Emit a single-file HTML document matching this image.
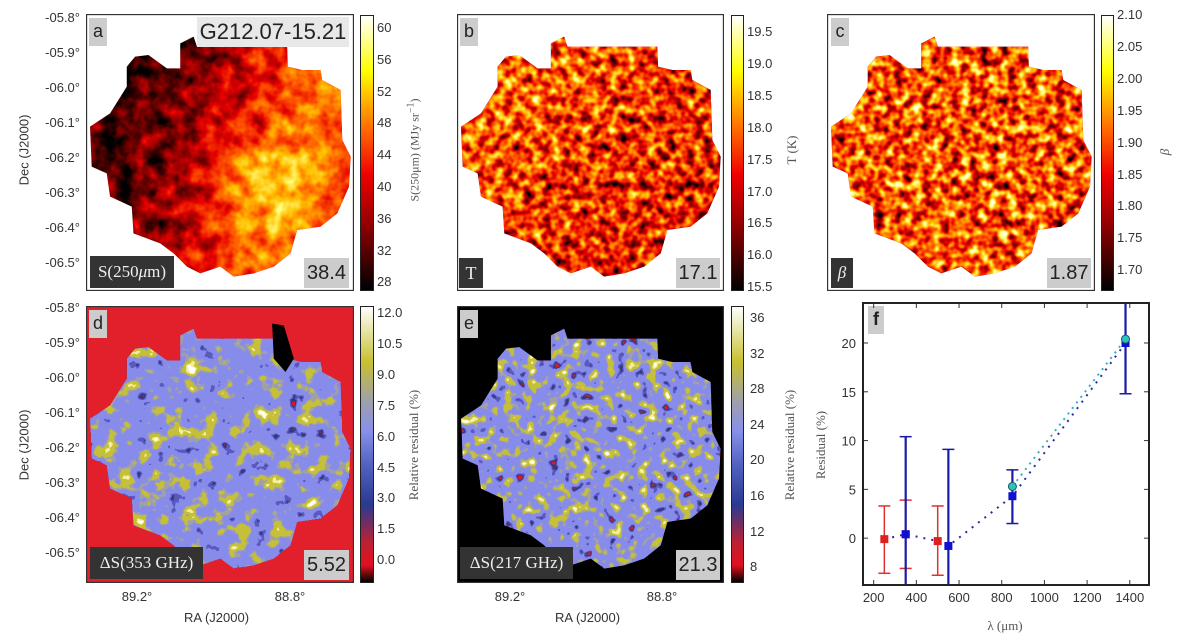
<!DOCTYPE html>
<html><head><meta charset="utf-8">
<style>
body{margin:0;width:1200px;height:636px;background:#fff;overflow:hidden;position:relative;font-family:"Liberation Sans",sans-serif;}
.abs{position:absolute;}
.t{position:absolute;font-size:13px;color:#333;white-space:nowrap;}
.rot{position:absolute;transform:translate(-50%,-50%) rotate(-90deg);white-space:nowrap;}
.serif{font-family:"Liberation Serif",serif;}
</style></head><body>
<svg width="0" height="0" style="position:absolute">
<defs>
 <filter id="fa" x="0" y="0" width="1" height="1" color-interpolation-filters="sRGB">
  <feTurbulence type="fractalNoise" baseFrequency="0.02" numOctaves="3" seed="3" result="n"/>
  <feColorMatrix in="n" type="matrix" values="1 0 0 0 0 1 0 0 0 0 1 0 0 0 0 0 0 0 0 1" result="g"/>
  <feComposite in="SourceGraphic" in2="g" operator="arithmetic" k2="1" k3="0.6" k4="-0.3" result="m"/>
  <feComponentTransfer in="m" result="c">
   <feFuncR type="table" tableValues="0 0.45 0.9 1 1 1 1"/>
   <feFuncG type="table" tableValues="0 0 0 0.35 0.75 1 1"/>
   <feFuncB type="table" tableValues="0 0 0 0 0 0.5 1"/>
   <feFuncA type="table" tableValues="1 1"/>
  </feComponentTransfer>
  <feComposite in="c" in2="SourceAlpha" operator="in"/>
 </filter>
 <filter id="fb" x="0" y="0" width="1" height="1" color-interpolation-filters="sRGB">
  <feTurbulence type="fractalNoise" baseFrequency="0.035" numOctaves="2" seed="7" result="n"/>
  <feColorMatrix in="n" type="matrix" values="1 0 0 0 0 1 0 0 0 0 1 0 0 0 0 0 0 0 0 1" result="g"/>
  <feComposite in="SourceGraphic" in2="g" operator="arithmetic" k2="1" k3="1.3" k4="-0.65" result="m"/>
  <feComponentTransfer in="m" result="c">
   <feFuncR type="table" tableValues="0 0.45 0.9 1 1 1 1"/>
   <feFuncG type="table" tableValues="0 0 0 0.35 0.75 1 1"/>
   <feFuncB type="table" tableValues="0 0 0 0 0 0.5 1"/>
   <feFuncA type="table" tableValues="1 1"/>
  </feComponentTransfer>
  <feComposite in="c" in2="SourceAlpha" operator="in"/>
 </filter>
 <filter id="fc" x="0" y="0" width="1" height="1" color-interpolation-filters="sRGB">
  <feTurbulence type="fractalNoise" baseFrequency="0.035" numOctaves="2" seed="19" result="n"/>
  <feColorMatrix in="n" type="matrix" values="1 0 0 0 0 1 0 0 0 0 1 0 0 0 0 0 0 0 0 1" result="g"/>
  <feComposite in="SourceGraphic" in2="g" operator="arithmetic" k2="1" k3="1.5" k4="-0.75" result="m"/>
  <feComponentTransfer in="m" result="c">
   <feFuncR type="table" tableValues="0 0.45 0.9 1 1 1 1"/>
   <feFuncG type="table" tableValues="0 0 0 0.35 0.75 1 1"/>
   <feFuncB type="table" tableValues="0 0 0 0 0 0.5 1"/>
   <feFuncA type="table" tableValues="1 1"/>
  </feComponentTransfer>
  <feComposite in="c" in2="SourceAlpha" operator="in"/>
 </filter>
 <filter id="fd" x="0" y="0" width="1" height="1" color-interpolation-filters="sRGB">
  <feTurbulence type="fractalNoise" baseFrequency="0.02" numOctaves="3" seed="11" result="n"/>
  <feColorMatrix in="n" type="matrix" values="1 0 0 0 0 1 0 0 0 0 1 0 0 0 0 0 0 0 0 1" result="g"/>
  <feComposite in="SourceGraphic" in2="g" operator="arithmetic" k2="1" k3="1.2" k4="-0.6" result="m"/>
  <feComponentTransfer in="m" result="c">
   <feFuncR type="discrete" tableValues="0.85 0.2 0.35 0.53 0.53 0.53 0.53 0.63 0.78 0.78 0.95 1"/>
   <feFuncG type="discrete" tableValues="0.1 0.22 0.35 0.55 0.55 0.55 0.55 0.63 0.75 0.75 0.93 1"/>
   <feFuncB type="discrete" tableValues="0.15 0.5 0.75 0.92 0.92 0.92 0.92 0.66 0.22 0.22 0.6 1"/>
   <feFuncA type="table" tableValues="1 1"/>
  </feComponentTransfer>
  <feComposite in="c" in2="SourceAlpha" operator="in"/>
 </filter>
 <filter id="fe" x="0" y="0" width="1" height="1" color-interpolation-filters="sRGB">
  <feTurbulence type="fractalNoise" baseFrequency="0.03" numOctaves="2" seed="5" result="n"/>
  <feColorMatrix in="n" type="matrix" values="1 0 0 0 0 1 0 0 0 0 1 0 0 0 0 0 0 0 0 1" result="g"/>
  <feComposite in="SourceGraphic" in2="g" operator="arithmetic" k2="1" k3="1.4" k4="-0.7" result="m"/>
  <feComponentTransfer in="m" result="c">
   <feFuncR type="discrete" tableValues="0.85 0.22 0.35 0.53 0.53 0.53 0.53 0.63 0.78 0.78 0.95 1"/>
   <feFuncG type="discrete" tableValues="0.1 0.22 0.35 0.55 0.55 0.55 0.55 0.63 0.75 0.75 0.93 1"/>
   <feFuncB type="discrete" tableValues="0.15 0.5 0.75 0.92 0.92 0.92 0.92 0.66 0.22 0.22 0.6 1"/>
   <feFuncA type="table" tableValues="1 1"/>
  </feComponentTransfer>
  <feComposite in="c" in2="SourceAlpha" operator="in"/>
 </filter>
 <linearGradient id="ga" x1="0" y1="0.2" x2="1" y2="0.5">
  <stop offset="0" stop-color="#101010"/><stop offset="0.3" stop-color="#282828"/>
  <stop offset="0.5" stop-color="#484848"/><stop offset="0.7" stop-color="#787878"/><stop offset="0.88" stop-color="#8e8e8e"/><stop offset="1" stop-color="#6e6e6e"/>
 </linearGradient>
 <radialGradient id="gar" cx="0.68" cy="0.62" r="0.3">
  <stop offset="0" stop-color="#fff" stop-opacity="0.45"/><stop offset="1" stop-color="#fff" stop-opacity="0"/>
 </radialGradient>
 <linearGradient id="gb" x1="0" y1="0" x2="1" y2="1">
  <stop offset="0" stop-color="#989898"/><stop offset="0.45" stop-color="#707070"/><stop offset="1" stop-color="#5a5a5a"/>
 </linearGradient>
 <polygon id="blob" points="405,170 445,165 500,205 540,205 540,130 580,110 590,140 860,140 862,200 905,210 960,210 965,240 1020,270 1025,420 1050,470 1045,560 1010,640 960,680 890,690 870,760 820,800 760,820 700,830 660,800 600,820 560,800 520,760 480,730 400,700 395,620 330,590 320,520 275,500 270,380 330,340 380,260 380,200"/>
</defs>
</svg>

<!-- Panel a -->
<svg class="abs" style="left:86px;top:14px" width="268" height="277" viewBox="258 42 802 831" preserveAspectRatio="none">
 <rect x="258" y="42" width="802" height="831" fill="#fff"/>
 <g filter="url(#fa)"><use href="#blob" fill="url(#ga)"/><use href="#blob" fill="url(#gar)"/></g>
 <rect x="259" y="43" width="800" height="829" fill="none" stroke="#333" stroke-width="5"/>
</svg>
<!-- Panel b -->
<svg class="abs" style="left:457px;top:14px" width="267" height="277" viewBox="258 42 802 831" preserveAspectRatio="none">
 <rect x="258" y="42" width="802" height="831" fill="#fff"/>
 <g filter="url(#fb)"><use href="#blob" fill="url(#gb)"/></g>
 <rect x="259" y="43" width="800" height="829" fill="none" stroke="#333" stroke-width="5"/>
</svg>
<!-- Panel c -->
<svg class="abs" style="left:827px;top:14px" width="268" height="277" viewBox="258 42 802 831" preserveAspectRatio="none">
 <rect x="258" y="42" width="802" height="831" fill="#fff"/>
 <g filter="url(#fc)"><use href="#blob" fill="#7c7c7c"/></g>
 <rect x="259" y="43" width="800" height="829" fill="none" stroke="#333" stroke-width="5"/>
</svg>
<!-- Panel d -->
<svg class="abs" style="left:86px;top:306px" width="268" height="277" viewBox="258 42 802 831" preserveAspectRatio="none">
 <rect x="258" y="42" width="802" height="831" fill="#e2202c"/>
 <g filter="url(#fd)"><use href="#blob" fill="#828282"/></g>
 <path d="M815,95 L850,100 L880,200 L855,240 L820,200 Z" fill="#000"/>
 <rect x="259" y="43" width="800" height="829" fill="none" stroke="#333" stroke-width="5"/>
</svg>
<!-- Panel e -->
<svg class="abs" style="left:457px;top:306px" width="267" height="277" viewBox="258 42 802 831" preserveAspectRatio="none">
 <rect x="258" y="42" width="802" height="831" fill="#000"/>
 <g filter="url(#fe)"><use href="#blob" fill="#828282"/></g>
 <rect x="259" y="43" width="800" height="829" fill="none" stroke="#333" stroke-width="5"/>
</svg>

<!-- colorbars -->
<div class="abs" style="left:360px;top:15px;width:12px;height:274px;border:1px solid #222;background:linear-gradient(to top,#000 0%,#900 25%,#e00 42%,#f60 58%,#ff0 80%,#fff 100%)"></div>
<div class="abs" style="left:731px;top:15px;width:11px;height:274px;border:1px solid #222;background:linear-gradient(to top,#000 0%,#900 25%,#e00 42%,#f60 58%,#ff0 80%,#fff 100%)"></div>
<div class="abs" style="left:1101px;top:15px;width:11px;height:274px;border:1px solid #222;background:linear-gradient(to top,#000 0%,#900 25%,#e00 42%,#f60 58%,#ff0 80%,#fff 100%)"></div>
<div class="abs" style="left:360px;top:306px;width:12px;height:275px;border:1px solid #222;background:linear-gradient(to top,#000 0%,#e01020 6%,#c02030 14%,#2a3a90 28%,#5060c0 42%,#8890ea 55%,#a0a0a8 66%,#c8c030 80%,#fff 100%)"></div>
<div class="abs" style="left:731px;top:306px;width:11px;height:275px;border:1px solid #222;background:linear-gradient(to top,#000 0%,#e01020 6%,#c02030 14%,#2a3a90 28%,#5060c0 42%,#8890ea 55%,#a0a0a8 66%,#c8c030 80%,#fff 100%)"></div>

<!-- panel labels -->
<div class="abs" style="left:89px;top:18px;width:18px;height:28px;background:#ccc;font-size:18px;text-align:center;line-height:26px;color:#222">a</div>
<div class="abs" style="left:197px;top:17px;width:152px;height:30px;background:#e8e8e8;font-size:22px;text-align:center;line-height:30px;color:#222">G212.07-15.21</div>
<div class="abs serif" style="left:90px;top:256px;width:84px;height:32px;background:#333;color:#eee;font-size:17px;text-align:center;line-height:32px">S(250<i>μ</i>m)</div>
<div class="abs" style="left:304px;top:258px;width:45px;height:30px;background:#ccc;font-size:20px;text-align:center;line-height:30px;color:#222">38.4</div>

<div class="abs" style="left:460px;top:18px;width:18px;height:28px;background:#ccc;font-size:18px;text-align:center;line-height:26px;color:#222">b</div>
<div class="abs serif" style="left:459px;top:258px;width:24px;height:30px;background:#333;color:#eee;font-size:18px;text-align:center;line-height:30px">T</div>
<div class="abs" style="left:676px;top:258px;width:44px;height:30px;background:#ccc;font-size:20px;text-align:center;line-height:30px;color:#222">17.1</div>

<div class="abs" style="left:831px;top:18px;width:18px;height:28px;background:#ccc;font-size:18px;text-align:center;line-height:26px;color:#222">c</div>
<div class="abs serif" style="left:831px;top:258px;width:22px;height:30px;background:#333;color:#eee;font-size:17px;text-align:center;line-height:30px"><i>β</i></div>
<div class="abs" style="left:1047px;top:258px;width:44px;height:30px;background:#ccc;font-size:20px;text-align:center;line-height:30px;color:#222">1.87</div>

<div class="abs" style="left:89px;top:310px;width:18px;height:28px;background:#ccc;font-size:18px;text-align:center;line-height:26px;color:#222">d</div>
<div class="abs serif" style="left:90px;top:547px;width:113px;height:32px;background:#333;color:#eee;font-size:17px;text-align:center;line-height:32px">ΔS(353 GHz)</div>
<div class="abs" style="left:304px;top:550px;width:45px;height:30px;background:#ccc;font-size:20px;text-align:center;line-height:30px;color:#222">5.52</div>

<div class="abs" style="left:460px;top:310px;width:18px;height:28px;background:#ccc;font-size:18px;text-align:center;line-height:26px;color:#222">e</div>
<div class="abs serif" style="left:460px;top:547px;width:113px;height:32px;background:#333;color:#eee;font-size:17px;text-align:center;line-height:32px">ΔS(217 GHz)</div>
<div class="abs" style="left:676px;top:550px;width:44px;height:30px;background:#ccc;font-size:20px;text-align:center;line-height:30px;color:#222">21.3</div>

<div class="abs" style="left:868px;top:306px;width:16px;height:28px;background:#ccc;font-size:18px;text-align:center;line-height:26px;color:#222;font-weight:bold">f</div>

<div id="labels"></div>

<!-- axis titles -->
<div class="rot" style="left:24px;top:150px;font-size:13px;color:#333">Dec (J2000)</div>
<div class="rot" style="left:24px;top:445px;font-size:13px;color:#333">Dec (J2000)</div>
<div class="t" style="left:184px;top:610px">RA (J2000)</div>
<div class="t" style="left:555px;top:610px">RA (J2000)</div>
<div class="rot serif" style="left:414px;top:150px;font-size:12px;color:#555">S(250μm) (MJy sr<sup>−1</sup>)</div>
<div class="rot serif" style="left:792px;top:150px;font-size:13px;color:#555">T (K)</div>
<div class="rot serif" style="left:1165px;top:152px;font-size:13px;color:#555"><i>β</i></div>
<div class="rot serif" style="left:414px;top:445px;font-size:13px;color:#555">Relative residual (%)</div>
<div class="rot serif" style="left:790px;top:445px;font-size:13px;color:#555">Relative residual (%)</div>

<!-- Panel f chart -->
<svg id="fchart" class="abs" style="left:0;top:0" width="1200" height="636"></svg>

<script>
// ---- panel f data ----
const redWave = [250, 350, 500];
const redVal = [-0.1, 0.4, -0.3];
const redLo = [3.5, 3.5, 3.5];
const redHi = [3.4, 3.5, 3.6];
const blueWave = [350, 550, 850, 1380];
const blueVal = [0.4, -0.8, 4.3, 20.0];
const blueLo = [10, 10, 2.8, 5.2];
const blueHi = [10.0, 9.9, 2.7, 10];
const cyanWave = [850, 1380];
const cyanVal = [5.3, 20.4];
const lineWave = [250, 350, 500, 550, 850, 1380];
const lineVal = [-0.1, 0.4, -0.3, -0.8, 4.3, 20.0];
const xTicks = [200, 400, 600, 800, 1000, 1200, 1400];
const yTicks = [0, 5, 10, 15, 20];

const X0=863, X1=1149, Y0=303, Y1=585;
const xmin=150, xmax=1490, ymin=-4.8, ymax=24.1;
function sx(v){return X0+(v-xmin)/(xmax-xmin)*(X1-X0);}
function sy(v){return Y1-(v-ymin)/(ymax-ymin)*(Y1-Y0);}
const NS='http://www.w3.org/2000/svg';
const svg=document.getElementById('fchart');
function mk(tag,attrs,parent){const e=document.createElementNS(NS,tag);for(const k in attrs)e.setAttribute(k,attrs[k]);(parent||svg).appendChild(e);return e;}
const clip=mk('clipPath',{id:'fclip'});mk('rect',{x:X0,y:Y0,width:X1-X0,height:Y1-Y0},clip);
const plot=mk('g',{'clip-path':'url(#fclip)'});
xTicks.forEach(t=>{
 const x=sx(t);
 const tk=mk('line',{x1:x,x2:x,y1:Y1,y2:Y1-5,stroke:'#333'});
 
 
 mk('line',{x1:x,x2:x,y1:Y0,y2:Y0+5,stroke:'#333'});
 const tx=mk('text',{x:x,y:Y1+17,'text-anchor':'middle','font-size':'13','fill':'#333','font-family':'Liberation Sans, sans-serif'});
 tx.textContent=t;
 
 
});
yTicks.forEach(t=>{
 const y=sy(t);
 mk('line',{x1:X0,x2:X0+5,y1:y,y2:y,stroke:'#333'});
 mk('line',{x1:X1,x2:X1-5,y1:y,y2:y,stroke:'#333'});
 const tx=mk('text',{x:X0-7,y:y+5,'text-anchor':'end','font-size':'13','fill':'#333','font-family':'Liberation Sans, sans-serif'});
 tx.textContent=t;
 
 
});
const ln=mk('polyline',{points:lineWave.map((w,i)=>sx(w)+','+sy(lineVal[i])).join(' '),fill:'none',stroke:'#2a2aa0','stroke-width':2,'stroke-dasharray':'2 6'},plot);


const cl=mk('polyline',{points:cyanWave.map((w,i)=>sx(w)+','+sy(cyanVal[i])).join(' '),fill:'none',stroke:'#30b0c8','stroke-width':2,'stroke-dasharray':'2 5'},plot);


function errbar(w,v,lo,hi,col,wid,name){
 const g=mk('g',{},plot);
 
 
 const x=sx(w);
 mk('line',{x1:x,x2:x,y1:sy(v-lo),y2:sy(v+hi),stroke:col,'stroke-width':wid},g);
 mk('line',{x1:x-6,x2:x+6,y1:sy(v-lo),y2:sy(v-lo),stroke:col,'stroke-width':1.5},g);
 mk('line',{x1:x-6,x2:x+6,y1:sy(v+hi),y2:sy(v+hi),stroke:col,'stroke-width':1.5},g);
 return g;
}
redWave.forEach((w,i)=>{
 const g=errbar(w,redVal[i],redLo[i],redHi[i],'#e03030',1.5,'red-errorbar');
 const p=mk('rect',{x:sx(w)-4,y:sy(redVal[i])-4,width:8,height:8,fill:'#e02020'},g);
 
 
});
blueWave.forEach((w,i)=>{
 const g=errbar(w,blueVal[i],blueLo[i],blueHi[i],'#1a1aa8',2.2,'blue-errorbar');
 const p=mk('rect',{x:sx(w)-4,y:sy(blueVal[i])-4,width:8,height:8,fill:'#1010d0'},g);
 
 
});
cyanWave.forEach((w,i)=>{
 const c=mk('circle',{cx:sx(w),cy:sy(cyanVal[i]),r:4,fill:'#30c0c0',stroke:'#106060','stroke-width':1},plot);
 
 
});
const fr=mk('rect',{x:X0,y:Y0,width:X1-X0,height:Y1-Y0,fill:'none',stroke:'#222','stroke-width':2});


const yl=mk('text',{x:0,y:0,transform:'translate(825,445) rotate(-90)','text-anchor':'middle','font-size':'13','fill':'#555','font-family':'Liberation Serif, serif'});
yl.textContent='Residual (%)';


const xl=mk('text',{x:1005,y:630,'text-anchor':'middle','font-size':'13','fill':'#555','font-family':'Liberation Serif, serif'});
xl.textContent='λ (μm)';



// ---- map tick labels ----
const decLabels=['-05.8°','-05.9°','-06.0°','-06.1°','-06.2°','-06.3°','-06.4°','-06.5°'];
const raLabels=['89.2°','88.8°'];
const cbA=['60','56','52','48','44','40','36','32','28'];
const cbB=['19.5','19.0','18.5','18.0','17.5','17.0','16.5','16.0','15.5'];
const cbC=['2.10','2.05','2.00','1.95','1.90','1.85','1.80','1.75','1.70'];
const cbD=['12.0','10.5','9.0','7.5','6.0','4.5','3.0','1.5','0.0'];
const cbE=['36','32','28','24','20','16','12','8'];
const L=document.getElementById('labels');
function lab(txt,x,y,name,align){
 const d=document.createElement('div');
 d.className='t';
 d.textContent=txt;
 d.style.left=x+'px';d.style.top=(y-8)+'px';
 if(align==='r'){d.style.left='auto';d.style.right=(1200-x)+'px';}
 if(align==='c'){d.style.transform='translateX(-50%)';}
 
 
 L.appendChild(d);
}
decLabels.forEach((t,i)=>{lab(t,80,18+i*35,'dec-tick-label','r');lab(t,80,308+i*35,'dec-tick-label','r');});
lab(raLabels[0],137,597,'ra-tick-label','c');lab(raLabels[1],290,597,'ra-tick-label','c');
lab(raLabels[0],510,597,'ra-tick-label','c');lab(raLabels[1],662,597,'ra-tick-label','c');
cbA.forEach((t,i)=>lab(t,377,28+i*31.8,'colorbar-a-tick'));
cbB.forEach((t,i)=>lab(t,747,32+i*31.9,'colorbar-b-tick'));
cbC.forEach((t,i)=>lab(t,1117,15+i*31.9,'colorbar-c-tick'));
cbD.forEach((t,i)=>lab(t,377,313+i*30.9,'colorbar-d-tick'));
cbE.forEach((t,i)=>lab(t,750,318+i*35.6,'colorbar-e-tick'));
</script>
</body></html>
